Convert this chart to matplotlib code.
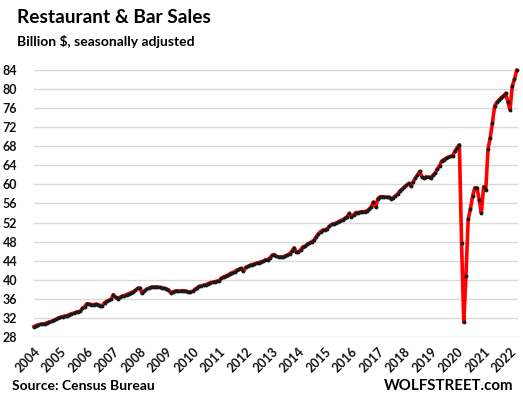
import matplotlib.pyplot as plt
from matplotlib.transforms import ScaledTranslation

plt.rcParams['font.family'] = ['Lato', 'DejaVu Sans']

# Datos (billion $, monthly, Jan 2004 - Apr 2022)
sales_2004 = [30.2, 30.4, 30.6, 30.7, 30.7, 30.8, 31.0, 31.2, 31.3, 31.5, 31.7, 32.0]
sales_2005 = [32.1, 32.3, 32.4, 32.5, 32.7, 32.9, 33.0, 33.2, 33.3, 33.4, 34.0, 34.4]
sales_2006 = [35.0, 34.9, 34.8, 34.8, 34.9, 34.8, 34.6, 34.6, 35.2, 35.5, 35.7, 35.9]
sales_2007 = [36.9, 36.3, 36.0, 36.3, 36.6, 36.7, 36.9, 37.1, 37.3, 37.5, 37.8, 38.2]
sales_2008 = [38.3, 37.2, 37.6, 38.0, 38.2, 38.4, 38.5, 38.5, 38.5, 38.4, 38.3, 38.2]
sales_2009 = [38.1, 37.9, 37.3, 37.5, 37.6, 37.7, 37.6, 37.7, 37.7, 37.6, 37.4, 37.5]
sales_2010 = [37.6, 38.0, 38.3, 38.6, 38.7, 38.9, 39.0, 39.2, 39.4, 39.5, 39.6, 39.7]
sales_2011 = [39.8, 40.3, 40.6, 40.8, 41.0, 41.3, 41.5, 41.7, 42.0, 42.2, 42.4, 41.8]
sales_2012 = [42.6, 42.8, 43.0, 43.2, 43.3, 43.5, 43.6, 43.8, 43.9, 44.2, 44.2, 44.6]
sales_2013 = [45.1, 45.3, 44.9, 44.8, 44.8, 44.8, 45.0, 45.2, 45.5, 46.0, 46.7, 45.8]
sales_2014 = [45.9, 46.3, 46.9, 47.1, 47.4, 47.7, 48.0, 48.3, 49.0, 49.6, 50.1, 50.4]
sales_2015 = [50.5, 50.7, 51.2, 51.6, 51.7, 51.9, 52.1, 52.4, 52.6, 52.9, 53.2, 53.9]
sales_2016 = [53.2, 53.6, 54.1, 54.1, 54.2, 54.3, 54.3, 54.4, 54.8, 55.3, 56.3, 55.3]
sales_2017 = [57.0, 57.4, 57.4, 57.4, 57.3, 57.3, 57.0, 57.2, 57.6, 58.0, 58.6, 59.0]
sales_2018 = [59.4, 59.8, 60.2, 59.6, 60.5, 61.3, 62.0, 62.7, 61.6, 61.3, 61.6, 61.5]
sales_2019 = [61.4, 61.9, 62.4, 63.2, 63.9, 64.9, 65.2, 65.5, 65.7, 65.9, 66.0, 67.0]
sales_2020 = [67.7, 68.3, 47.7, 31.1, 40.9, 52.7, 54.8, 57.5, 59.3, 59.3, 56.8, 54.0]
sales_2021 = [59.5, 58.9, 67.4, 69.8, 72.9, 76.4, 77.2, 77.7, 78.2, 78.5, 79.1, 77.3]
sales_2022 = [75.6, 80.6, 82.0, 83.9]

years = [str(y) for y in range(2004, 2023)]
y_ticks = list(range(28, 85, 4))

sales = (sales_2004 + sales_2005 + sales_2006 + sales_2007 + sales_2008 + sales_2009
         + sales_2010 + sales_2011 + sales_2012 + sales_2013 + sales_2014 + sales_2015
         + sales_2016 + sales_2017 + sales_2018 + sales_2019 + sales_2020 + sales_2021
         + sales_2022)
months = list(range(len(sales)))

fig = plt.figure(figsize=(5.23, 3.97), dpi=100)
ax = fig.add_axes([0.065, 0.151, 0.925, 0.673])

ax.plot(months, sales, color='#FF0000', linewidth=2.6, clip_on=False, zorder=3)
ax.plot(months, sales, linestyle='none', marker='o', markersize=1.8,
        color='#1a1a1a', clip_on=False, zorder=4)

ax.set_ylim(28, 84)
ax.set_xlim(0, len(sales) - 0.5)
ax.set_yticks(y_ticks)
ax.set_yticklabels([str(v) for v in y_ticks], fontsize=9, fontweight='bold')
ax.set_xticks([12 * k for k in range(len(years))])
ax.set_xticklabels(years, rotation=45, ha='right', va='top',
                   rotation_mode='anchor', fontsize=9, fontweight='bold')
offset = ScaledTranslation(2 / 100, -2 / 100, fig.dpi_scale_trans)
for lbl in ax.get_xticklabels():
    lbl.set_transform(lbl.get_transform() + offset)

ax.grid(axis='y', color='#D9D9D9', linewidth=1.0)
ax.set_axisbelow(True)
ax.tick_params(axis='both', length=0, colors='#111111')
ax.tick_params(axis='y', pad=12)
ax.tick_params(axis='x', pad=6)
for s in ax.spines.values():
    s.set_visible(False)

fig.text(0.032, 0.955, 'Restaurant & Bar Sales', fontsize=13.8, fontweight='bold',
         va='center', ha='left')
fig.text(0.032, 0.895, 'Billion $, seasonally adjusted', fontsize=10, fontweight='bold',
         va='center', ha='left')
fig.text(0.023, 0.028, 'Source: Census Bureau', fontsize=10, fontweight='bold',
         va='center', ha='left')
fig.text(0.982, 0.028, 'WOLFSTREET.com', fontsize=10.8, fontweight='bold',
         va='center', ha='right')

fig.savefig('out.png', dpi=100)
